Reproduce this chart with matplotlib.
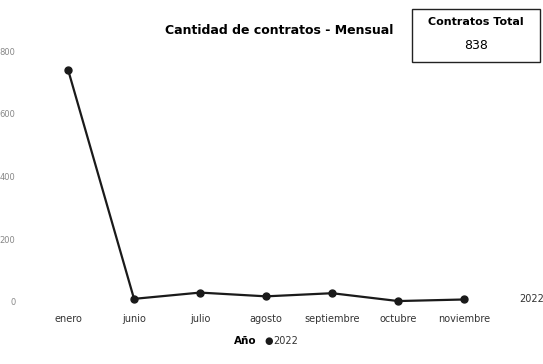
import numpy as np
import matplotlib.pyplot as plt
from matplotlib.patches import Rectangle

# Data
meses = ['enero', 'junio', 'julio', 'agosto', 'septiembre', 'octubre', 'noviembre']
contratos = [741, 10, 30, 18, 28, 3, 8]
total = 838
y_ticks = [0, 200, 400, 600, 800]

fig = plt.figure(figsize=(5.43, 3.64), dpi=100)
ax = fig.add_axes([0.0645, 0.1445, 0.851, 0.741])

x = np.arange(len(meses))
ax.plot(x, contratos, color='#1a1a1a', linewidth=1.6, marker='o', markersize=5,
        clip_on=False, zorder=3)

ax.set_xlim(-0.5, len(meses) - 0.5)
ax.set_ylim(-30, 830)
ax.set_xticks(x)
ax.set_xticklabels(meses, fontsize=7, color='#333333')
ax.set_yticks(y_ticks)
ax.set_yticklabels([str(v) for v in y_ticks], fontsize=6, color='#888888')
ax.tick_params(axis='both', length=0)
ax.tick_params(axis='y', pad=14)
ax.tick_params(axis='x', pad=2)
for s in ax.spines.values():
    s.set_visible(False)

# series label at the end of the line
ax.annotate('2022', (x[-1], contratos[-1]), xytext=(40, 0), textcoords='offset points',
            fontsize=7, color='#333333', va='center', annotation_clip=False)

# title
fig.text(0.515, 0.915, 'Cantidad de contratos - Mensual', fontsize=9,
         fontweight='bold', ha='center', va='center')

# total card
fig.patches.append(Rectangle((0.758, 0.83), 0.237, 0.145, transform=fig.transFigure,
                             fill=False, edgecolor='#222222', linewidth=1))
fig.text(0.876, 0.94, 'Contratos Total', fontsize=8, fontweight='bold',
         ha='center', va='center', family='Liberation Sans Narrow')
fig.text(0.876, 0.875, str(total), fontsize=9, ha='center', va='center')

# legend
fig.text(0.43, 0.063, 'Año', fontsize=7.5, fontweight='bold', ha='left', va='center')
fig.text(0.494, 0.063, '\u25cf', fontsize=7, ha='center', va='center', color='#1a1a1a')
fig.text(0.503, 0.063, '2022', fontsize=7, ha='left', va='center', color='#333333')

fig.savefig('out.png', dpi=100)
